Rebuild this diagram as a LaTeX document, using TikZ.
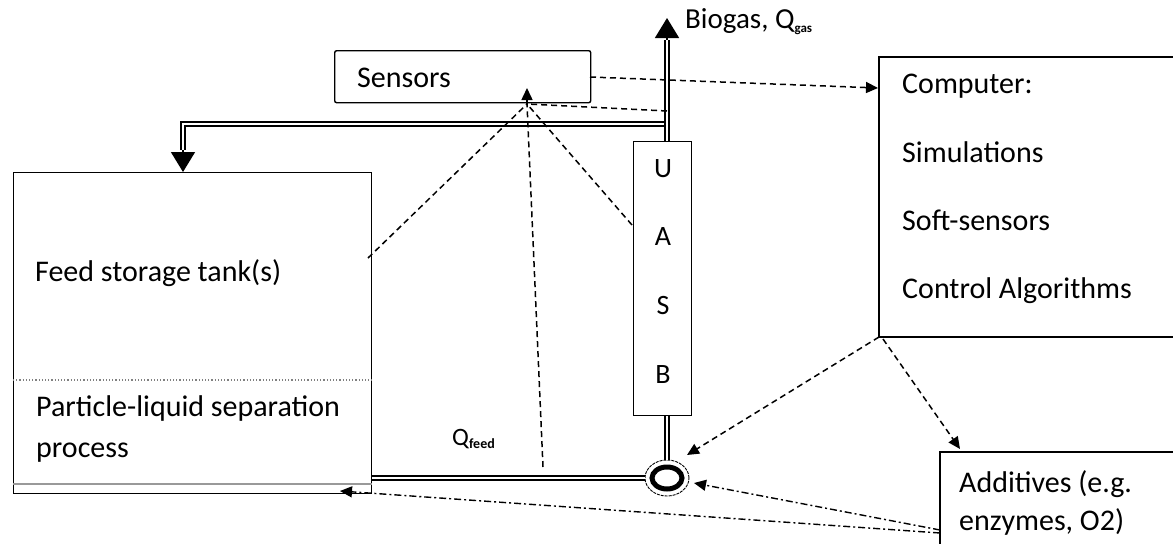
\documentclass[tikz,border=0pt]{standalone}
\usepackage{fontspec}
\setmainfont{Carlito}
\usetikzlibrary{arrows.meta,shapes.geometric,calc}
\begin{document}
\begin{tikzpicture}[x=1pt,y=-1pt,
  box/.style={draw, line width=1.4pt, inner sep=0, anchor=north west},
  lbl/.style={anchor=base west, inner sep=0, font=\fontsize{30}{34}\selectfont},
  letter/.style={anchor=base, inner sep=0, font=\fontsize{28}{32}\selectfont},
  pipe/.style={double, double distance=2.4pt, line width=1.7pt},
  sig/.style={line width=1.5pt, dash pattern=on 6pt off 4pt},
  sigdd/.style={line width=1.4pt, dash pattern=on 7pt off 3pt on 2pt off 3pt},
  tip/.style={-{Triangle[length=12pt,width=11pt]}},
  bigtip/.style={-{Triangle[length=20pt,width=24pt]}, line width=1.5pt},
]
\useasboundingbox (0,0) rectangle (1173,544);

% boxes
\node[box, rounded corners=2pt, minimum width=256pt, minimum height=52pt] (sensors) at (334,50) {};
\node[lbl] (sensorst) at (357,87) {Sensors};

\node[box, minimum width=358pt, minimum height=321pt] (tank) at (13,172) {};
\draw[gray, line width=1.2pt, dotted] (tank.west |- 0,380) -- (tank.east |- 0,380);
\draw[gray!80, line width=1.2pt] (tank.west |- 0,484) -- (tank.east |- 0,484);
\node[lbl] (tankt) at (35,281) {Feed storage tank(s)};
\node[lbl] (sept1) at (36,416) {Particle-liquid separation};
\node[lbl] (sept2) at (36,457) {process};

\node[box, minimum width=58pt, minimum height=274pt] (uasb) at (633,141) {};
\node[letter] (lu) at (663,177) {U};
\node[letter] (la) at (663,245) {A};
\node[letter] (ls) at (663,314) {S};
\node[letter] (lb) at (663,383) {B};

% computer (partly outside the picture)
\coordinate (cnw) at (879,57);
\coordinate (csw) at (879,337);
\draw[line width=1.4pt] (1173,57) -- (cnw) -- (csw) -- (1173,337);
\node[lbl] (comp1) at (902,93) {Computer:};
\node[lbl] (comp2) at (902,162) {Simulations};
\node[lbl] (comp3) at (902,230) {Soft-sensors};
\node[lbl] (comp4) at (902,298) {Control Algorithms};

% additives (partly outside the picture)
\coordinate (anw) at (940,452);
\draw[line width=1.4pt] (1173,452) -- (anw) -- (940,544);
\node[lbl] (add1) at (959,492) {Additives (e.g.};
\node[lbl] (add2) at (959,530) {enzymes, O2)};

% pipes
\coordinate (px) at (667,0);
\coordinate (gtop) at (667,18);
\coordinate (gbase) at (667,40);
\coordinate (junc) at (667,124);
\coordinate (corner) at (183,124);
\coordinate (dbase) at (183,150);
\draw[pipe] (junc) -- (corner) -- (dbase);
\draw[bigtip] (dbase) -- (tank.north -| corner);
\draw[pipe] (uasb.north -| px) -- (gbase);
\draw[bigtip] (gbase) -- (gtop);
\node[anchor=base west, inner sep=0, font=\fontsize{29}{32}\selectfont] (gas) at (685,28)
  {Biogas, Q\raisebox{-4pt}{\fontsize{13}{13}\selectfont\bfseries gas}};

\node[ellipse, draw, line width=0.9pt, dash pattern=on 3pt off 1pt, minimum width=44pt, minimum height=36pt, inner sep=0] (ring) at (667,478) {};
\draw[line width=5pt] (ring.center) ellipse (15 and 11);
\draw[pipe] (uasb.south -| px) -- (ring.north);
\draw[pipe] (ring.west) -- (tank.east |- ring.west);
\node[anchor=base west, inner sep=0, font=\fontsize{25}{28}\selectfont] (qfeed) at (452,445)
  {Q\raisebox{-3pt}{\fontsize{14}{14}\selectfont\bfseries feed}};

% signal lines
\coordinate (hub) at (527,104);
\coordinate (hubtip) at (527,88);
\coordinate (sr) at (590,77);
\coordinate (cin) at (878,88);
\coordinate (pg) at (667,111);
\coordinate (tk) at (368,258);
\coordinate (qf) at (543,467);
\coordinate (ua) at (632,225);
\draw[sig, tip] (sr) -- (cin);
\draw[sig] (pg) -- (hub);
\draw[sig] (tk) -- (hub);
\draw[sig] (qf) -- (hub);
\draw[sig] (ua) -- (hub);
\draw[line width=1.5pt, tip] (hub) -- (hubtip);

\coordinate (rtop) at (687,455);
\coordinate (adtip) at (960,449);
\coordinate (csw2) at (883,339);
\draw[sig, tip] (csw) -- (rtop);
\draw[sig, tip] (csw2) -- (adtip);

\coordinate (al1) at (940,530);
\coordinate (al2) at (940,533);
\coordinate (rr) at (694,483);
\coordinate (tb) at (340,491);
\draw[sigdd, tip] (al1) -- (rr);
\draw[sigdd, tip] (al2) -- (tb);
\end{tikzpicture}
\end{document}
